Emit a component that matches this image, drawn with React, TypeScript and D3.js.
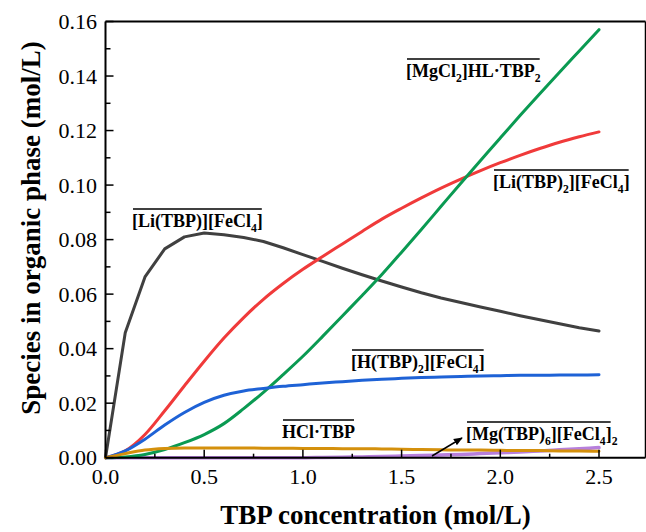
import React, { useLayoutEffect, useRef, useState } from 'react';
import * as d3 from 'd3';

const tbp = [0, 0.1, 0.2, 0.3, 0.4, 0.5, 0.6, 0.7, 0.8, 0.9, 1.0, 1.1, 1.2, 1.3, 1.4, 1.5, 1.6, 1.7, 1.8, 1.9, 2.0, 2.1, 2.2, 2.3, 2.4, 2.5];
const liTbpFeCl4 = [0, 0.0458, 0.0663, 0.0766, 0.081, 0.0824, 0.0818, 0.0808, 0.0793, 0.077, 0.0745, 0.072, 0.0695, 0.0671, 0.0648, 0.0626, 0.0605, 0.0586, 0.0569, 0.0553, 0.0537, 0.0521, 0.0506, 0.0491, 0.0477, 0.0465];
const liTbp2FeCl4 = [0, 0.0025, 0.0085, 0.0172, 0.0264, 0.0354, 0.0439, 0.0514, 0.0581, 0.0639, 0.0691, 0.0738, 0.0784, 0.083, 0.0875, 0.0915, 0.0953, 0.0989, 0.1022, 0.1053, 0.1082, 0.1109, 0.1134, 0.1157, 0.1177, 0.1195];
const mgCl2HLTbp2 = [0, 0.0003, 0.0012, 0.003, 0.0055, 0.0085, 0.0125, 0.018, 0.024, 0.0305, 0.0372, 0.0445, 0.052, 0.0595, 0.0672, 0.0754, 0.0837, 0.0922, 0.1007, 0.109, 0.1173, 0.1255, 0.1335, 0.1414, 0.1492, 0.157];
const hTbp2FeCl4 = [0, 0.0025, 0.0068, 0.012, 0.0166, 0.0203, 0.0229, 0.0245, 0.0254, 0.0262, 0.0268, 0.0274, 0.0279, 0.0284, 0.0288, 0.0291, 0.0294, 0.0296, 0.0298, 0.03, 0.0301, 0.0302, 0.0302, 0.0303, 0.0303, 0.0304];
const hclTbp = [0, 0.0015, 0.0028, 0.0034, 0.0036, 0.0036, 0.0036, 0.0036, 0.0035, 0.0035, 0.0034, 0.0034, 0.0033, 0.0033, 0.0032, 0.0031, 0.003, 0.0029, 0.0028, 0.0028, 0.0027, 0.0026, 0.0026, 0.0025, 0.0025, 0.0024];
const mgTbp6FeCl42 = [0, 0, 0, 0, 0, 0, 0, 0, 0, 0, 0, 0.0001, 0.0002, 0.0003, 0.0004, 0.0006, 0.0008, 0.001, 0.0012, 0.0015, 0.0018, 0.0021, 0.0025, 0.0029, 0.0033, 0.0037];

const yTicks = [0, 0.02, 0.04, 0.06, 0.08, 0.1, 0.12, 0.14, 0.16];
const yMinorTicks = [0.01, 0.03, 0.05, 0.07, 0.09, 0.11, 0.13, 0.15];
const xTicks = [0, 0.5, 1.0, 1.5, 2.0, 2.5];
const xMinorTicks = [0.25, 0.75, 1.25, 1.75, 2.25];

const SERIF = "'Liberation Serif', 'Times New Roman', serif";

type Part = { t: string; sub?: boolean };

function OverLabel({ x, y, parts, overChars, fs = 18 }: { x: number; y: number; parts: Part[]; overChars?: number; fs?: number }) {
  const ref = useRef<SVGTextElement>(null);
  const [w, setW] = useState(0);
  useLayoutEffect(() => {
    const el = ref.current;
    if (!el) return;
    const total = el.getNumberOfChars();
    const n = overChars ?? total;
    setW(el.getSubStringLength(0, n));
  }, []);
  const kids: React.ReactNode[] = [];
  let shifted = false;
  parts.forEach((p, i) => {
    let dy = 0;
    if (p.sub && !shifted) { dy = fs * 0.25; shifted = true; }
    else if (!p.sub && shifted) { dy = -fs * 0.25; shifted = false; }
    kids.push(
      <tspan key={i} dy={dy || undefined} fontSize={p.sub ? fs * 0.65 : fs}>{p.t}</tspan>
    );
  });
  return (
    <g>
      <text ref={ref} x={x} y={y} fontFamily={SERIF} fontWeight="bold" fontSize={fs} fill="#000">{kids}</text>
      {w > 0 && <line x1={x + 1} x2={x + w - 1} y1={y - 18} y2={y - 18} stroke="#000" strokeWidth={1.4} />}
    </g>
  );
}

export default function App() {
  const left = 105.5, right = 645.5, top = 21.5, bottom = 457.7;
  const x = d3.scaleLinear().domain([0, 2.5]).range([left, 599]);
  const y = d3.scaleLinear().domain([0, 0.16]).range([bottom, top]);

  const mk = (vals: number[], curve: d3.CurveFactory) =>
    d3.line<number>().x((_, i) => x(tbp[i])).y((v) => y(v)).curve(curve)(vals) || '';

  const series = [
    { vals: mgTbp6FeCl42, color: '#b77fdc', curve: d3.curveMonotoneX, w: 3.5 },
    { vals: liTbpFeCl4, color: '#404040', curve: d3.curveLinear, w: 3 },
    { vals: liTbp2FeCl4, color: '#f03a3a', curve: d3.curveMonotoneX, w: 3 },
    { vals: mgCl2HLTbp2, color: '#0a9a52', curve: d3.curveMonotoneX, w: 3 },
    { vals: hTbp2FeCl4, color: '#1e62d6', curve: d3.curveMonotoneX, w: 3 },
    { vals: hclTbp, color: '#d4900c', curve: d3.curveMonotoneX, w: 3 },
  ];

  return (
    <svg width={646} height={532} style={{ position: 'absolute', left: 0, top: 0, background: '#fff' }}>
      <defs>
        <marker id="ah" viewBox="0 0 10 10" refX="9" refY="5" markerWidth="9" markerHeight="9" orient="auto" markerUnits="userSpaceOnUse">
          <path d="M0,1 L10,5 L0,9 Z" fill="#000" />
        </marker>
      </defs>
      <rect x={0} y={0} width={646} height={532} fill="#fff" />
      {series.map((s, i) => (
        <path key={i} d={mk(s.vals, s.curve)} fill="none" stroke={s.color} strokeWidth={s.w} strokeLinejoin="round" strokeLinecap="round" />
      ))}
      {/* frame */}
      <line x1={left} x2={right} y1={top} y2={top} stroke="#000" strokeWidth={2} />
      <line x1={right} x2={right} y1={top} y2={bottom} stroke="#000" strokeWidth={1.5} />
      <line x1={left} x2={right} y1={bottom} y2={bottom} stroke="#000" strokeWidth={2} />
      <line x1={left} x2={left} y1={top} y2={bottom} stroke="#000" strokeWidth={2} />
      {yTicks.map((t) => (
        <g key={'y' + t}>
          <line x1={left} x2={left + 8} y1={y(t)} y2={y(t)} stroke="#000" strokeWidth={1.5} />
          <text x={97} y={y(t)} dy="0.35em" textAnchor="end" fontFamily={SERIF} fontSize={22} fill="#000">{d3.format('.2f')(t)}</text>
        </g>
      ))}
      {yMinorTicks.map((t) => (
        <line key={'ym' + t} x1={left} x2={left + 5} y1={y(t)} y2={y(t)} stroke="#000" strokeWidth={1.5} />
      ))}
      {xTicks.map((t) => (
        <g key={'x' + t}>
          <line x1={x(t)} x2={x(t)} y1={bottom} y2={bottom - 8} stroke="#000" strokeWidth={1.5} />
          <text x={x(t)} y={484} textAnchor="middle" fontFamily={SERIF} fontSize={22} fill="#000">{d3.format('.1f')(t)}</text>
        </g>
      ))}
      {xMinorTicks.map((t) => (
        <line key={'xm' + t} x1={x(t)} x2={x(t)} y1={bottom} y2={bottom - 4} stroke="#000" strokeWidth={1.5} />
      ))}
      {/* axis titles */}
      <text x={(left + right) / 2} y={524} textAnchor="middle" fontFamily={SERIF} fontWeight="bold" fontSize={27} fill="#000">TBP concentration (mol/L)</text>
      <text transform={`translate(40,228) rotate(-90)`} textAnchor="middle" fontFamily={SERIF} fontWeight="bold" fontSize={27} fill="#000">Species in organic phase (mol/L)</text>
      {/* labels */}
      <OverLabel x={132} y={227} parts={[{ t: '[Li(TBP)][FeCl' }, { t: '4', sub: true }, { t: ']' }]} />
      <OverLabel x={406} y={77} parts={[{ t: '[MgCl' }, { t: '2', sub: true }, { t: ']HL\u00B7TBP' }, { t: '2', sub: true }]} overChars={15} />
      <OverLabel x={493} y={188} parts={[{ t: '[Li(TBP)' }, { t: '2', sub: true }, { t: '][FeCl' }, { t: '4', sub: true }, { t: ']' }]} />
      <OverLabel x={351} y={368} parts={[{ t: '[H(TBP)' }, { t: '2', sub: true }, { t: '][FeCl' }, { t: '4', sub: true }, { t: ']' }]} />
      <OverLabel x={282} y={438} parts={[{ t: 'HCl\u00B7TBP' }]} />
      <OverLabel x={466} y={440} parts={[{ t: '[Mg(TBP)' }, { t: '6', sub: true }, { t: '][FeCl' }, { t: '4', sub: true }, { t: ']' }, { t: '2', sub: true }]} overChars={17} />
      <line x1={432} y1={456} x2={462} y2={438} stroke="#000" strokeWidth={1.5} markerEnd="url(#ah)" />
    </svg>
  );
}
